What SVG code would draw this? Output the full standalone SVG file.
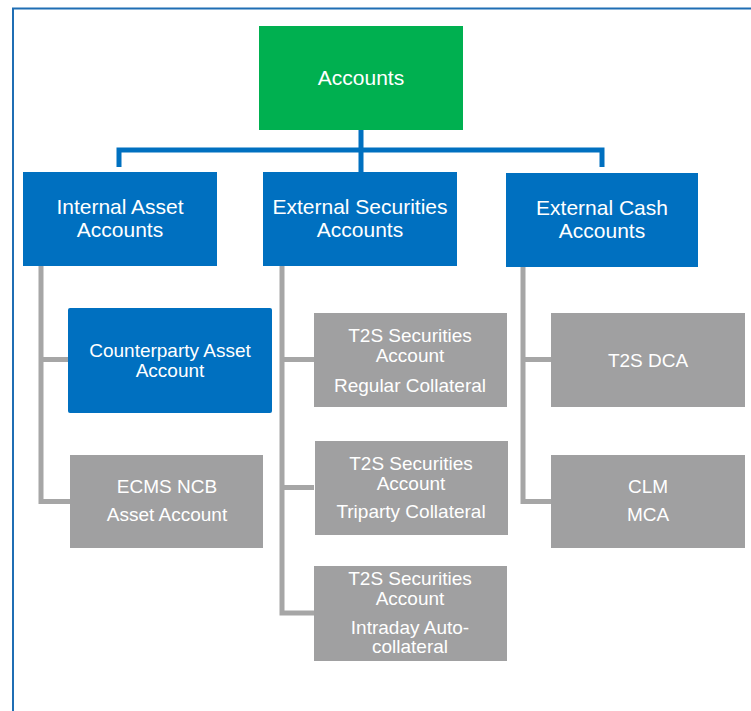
<svg xmlns="http://www.w3.org/2000/svg" width="751" height="711" viewBox="0 0 751 711">
<style>
.bg{fill:#ffffff}
.frame{fill:none;stroke:#1F6EB4;stroke-width:2}
.green{fill:#00B050}
.blue{fill:#0070C0}
.gray{fill:#A0A0A1}
.cb{fill:none;stroke:#0070C0;stroke-width:5}
.cg{fill:none;stroke:#A6A6A6;stroke-width:5}
text{font-family:"Liberation Sans",Arial,sans-serif;fill:#ffffff;text-anchor:middle}
.t1{font-size:21px}
.t2{font-size:19px}
</style>
<rect class="bg" x="0" y="0" width="751" height="711"/>
<path class="frame" d="M13 711 V8.5 H751"/>
<g id="connectors">
<path class="cb" d="M361 129 V150 M119 167 V150 H602 V167 M361 150 V172"/>
<path class="cg" d="M41 266 V501.5 H70 M41 359.5 H68"/>
<path class="cg" d="M282 266 V613 H314 M282 359.5 H314 M282 487.5 H314"/>
<path class="cg" d="M523 267 V501.5 H551 M523 359.5 H551"/>
</g>
<g id="accounts">
<rect class="green" x="259" y="26" width="204" height="104"/>
<text class="t1" x="361" y="85">Accounts</text>
</g>
<g id="internal-asset">
<rect class="blue" x="23" y="172" width="194" height="94"/>
<text class="t1" x="120" y="214">Internal Asset</text>
<text class="t1" x="120" y="237">Accounts</text>
</g>
<g id="external-securities">
<rect class="blue" x="263" y="172" width="194" height="94"/>
<text class="t1" x="360" y="214">External Securities</text>
<text class="t1" x="360" y="237">Accounts</text>
</g>
<g id="external-cash">
<rect class="blue" x="506" y="173" width="192" height="94"/>
<text class="t1" x="602" y="215">External Cash</text>
<text class="t1" x="602" y="238">Accounts</text>
</g>
<g id="counterparty-asset">
<rect class="blue" x="68" y="308" width="204" height="105" rx="2"/>
<text class="t2" x="170" y="357">Counterparty Asset</text>
<text class="t2" x="170" y="377">Account</text>
</g>
<g id="ecms-ncb">
<rect class="gray" x="70" y="455" width="193" height="93"/>
<text class="t2" x="167" y="493">ECMS NCB</text>
<text class="t2" x="167" y="521">Asset Account</text>
</g>
<g id="t2s-regular">
<rect class="gray" x="314" y="313" width="193" height="94"/>
<text class="t2" x="410" y="342">T2S Securities</text>
<text class="t2" x="410" y="362">Account</text>
<text class="t2" x="410" y="392">Regular Collateral</text>
</g>
<g id="t2s-triparty">
<rect class="gray" x="315" y="441" width="193" height="94"/>
<text class="t2" x="411" y="470">T2S Securities</text>
<text class="t2" x="411" y="490">Account</text>
<text class="t2" x="411" y="518">Triparty Collateral</text>
</g>
<g id="t2s-intraday">
<rect class="gray" x="314" y="566" width="193" height="95"/>
<text class="t2" x="410" y="585">T2S Securities</text>
<text class="t2" x="410" y="605">Account</text>
<text class="t2" x="410" y="634">Intraday Auto-</text>
<text class="t2" x="410" y="653">collateral</text>
</g>
<g id="t2s-dca">
<rect class="gray" x="551" y="313" width="194" height="94"/>
<text class="t2" x="648" y="367">T2S DCA</text>
</g>
<g id="clm-mca">
<rect class="gray" x="551" y="455" width="194" height="93"/>
<text class="t2" x="648" y="493">CLM</text>
<text class="t2" x="648" y="521">MCA</text>
</g>
</svg>
